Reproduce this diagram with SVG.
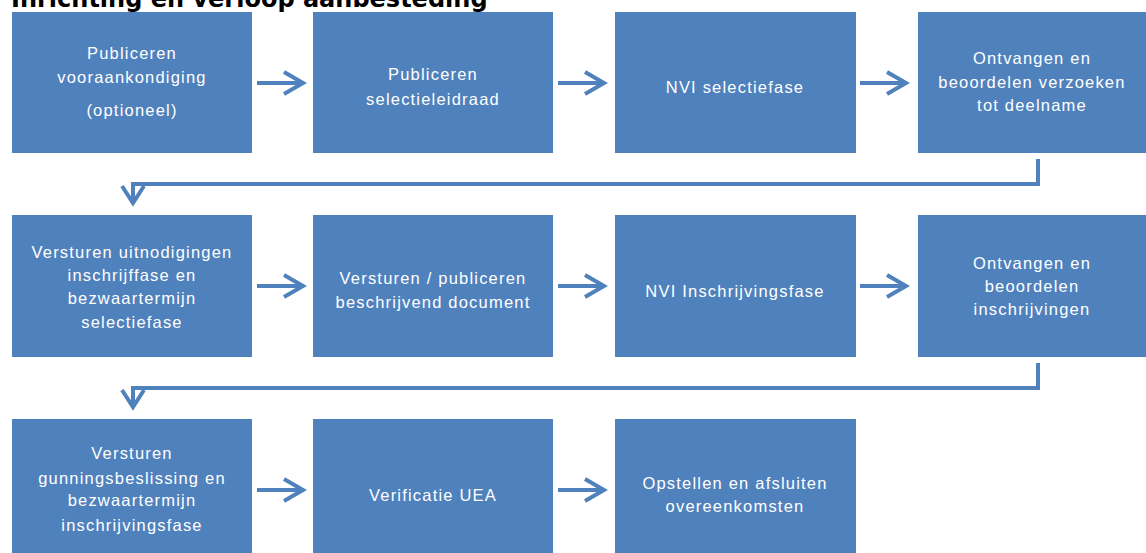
<svg xmlns="http://www.w3.org/2000/svg" width="1146" height="553" viewBox="0 0 1146 553">
<style>
.box{fill:#4F81BD}
.t{font-family:"Liberation Sans",Arial,sans-serif;font-size:16.5px;fill:#fff;text-anchor:middle;letter-spacing:1.2px}
.title{font-family:"DejaVu Sans",Verdana,sans-serif;font-weight:bold;font-size:24px;fill:#000}
.c{fill:none;stroke:#4F81BD;stroke-width:4}
.h{fill:none;stroke:#4F81BD;stroke-width:4;stroke-linejoin:miter}
</style>
<rect width="1146" height="553" fill="#fff"/>
<text class="title" x="11" y="7">Inrichting  en verloop aanbesteding</text>
<g id="n1"><rect class="box" x="12" y="12" width="240" height="141"/>
<text class="t" x="132" y="59">Publiceren</text><text class="t" x="132" y="83">vooraankondiging</text><text class="t" x="132" y="116">(optioneel)</text></g>
<g id="n2"><rect class="box" x="313" y="12" width="240" height="141"/>
<text class="t" x="433" y="80">Publiceren</text><text class="t" x="433" y="105">selectieleidraad</text></g>
<g id="n3"><rect class="box" x="615" y="12" width="241" height="141"/>
<text class="t" x="735" y="93">NVI selectiefase</text></g>
<g id="n4"><rect class="box" x="918" y="12" width="228" height="141"/>
<text class="t" x="1032" y="64">Ontvangen en</text><text class="t" x="1032" y="88">beoordelen  verzoeken</text><text class="t" x="1032" y="111">tot deelname</text></g>
<g id="n5"><rect class="box" x="12" y="215" width="240" height="142"/>
<text class="t" x="132" y="258">Versturen  uitnodigingen</text><text class="t" x="132" y="281">inschrijffase  en</text><text class="t" x="132" y="304">bezwaartermijn</text><text class="t" x="132" y="328">selectiefase</text></g>
<g id="n6"><rect class="box" x="313" y="215" width="240" height="142"/>
<text class="t" x="433" y="284">Versturen  / publiceren</text><text class="t" x="433" y="308">beschrijvend  document</text></g>
<g id="n7"><rect class="box" x="615" y="215" width="241" height="142"/>
<text class="t" x="735" y="297">NVI  Inschrijvingsfase</text></g>
<g id="n8"><rect class="box" x="918" y="215" width="228" height="142"/>
<text class="t" x="1032" y="269">Ontvangen en</text><text class="t" x="1032" y="292">beoordelen</text><text class="t" x="1032" y="315">inschrijvingen</text></g>
<g id="n9"><rect class="box" x="12" y="419" width="240" height="141"/>
<text class="t" x="132" y="459">Versturen</text><text class="t" x="132" y="484">gunningsbeslissing  en</text><text class="t" x="132" y="506">bezwaartermijn</text><text class="t" x="132" y="531">inschrijvingsfase</text></g>
<g id="n10"><rect class="box" x="313" y="419" width="240" height="141"/>
<text class="t" x="433" y="501">Verificatie  UEA</text></g>
<g id="n11"><rect class="box" x="615" y="419" width="241" height="141"/>
<text class="t" x="735" y="489">Opstellen en afsluiten</text><text class="t" x="735" y="512">overeenkomsten</text></g>
<g id="connectors">
<path class="c" d="M257,83H302M284,72L303,83L284,94"/>
<path class="c" d="M558,83H603M585,72L604,83L585,94"/>
<path class="c" d="M860,83H905M887,72L906,83L887,94"/>
<path class="c" d="M257,286H302M284,275L303,286L284,297"/>
<path class="c" d="M558,286H603M585,275L604,286L585,297"/>
<path class="c" d="M860,286H905M887,275L906,286L887,297"/>
<path class="c" d="M257,490H302M284,479L303,490L284,501"/>
<path class="c" d="M558,490H603M585,479L604,490L585,501"/>
<path class="h" d="M1038,159V184H133V202M122,186L133,203L144,186"/>
<path class="h" d="M1038,363V388H133V406M122,390L133,407L144,390"/>
</g>
</svg>
